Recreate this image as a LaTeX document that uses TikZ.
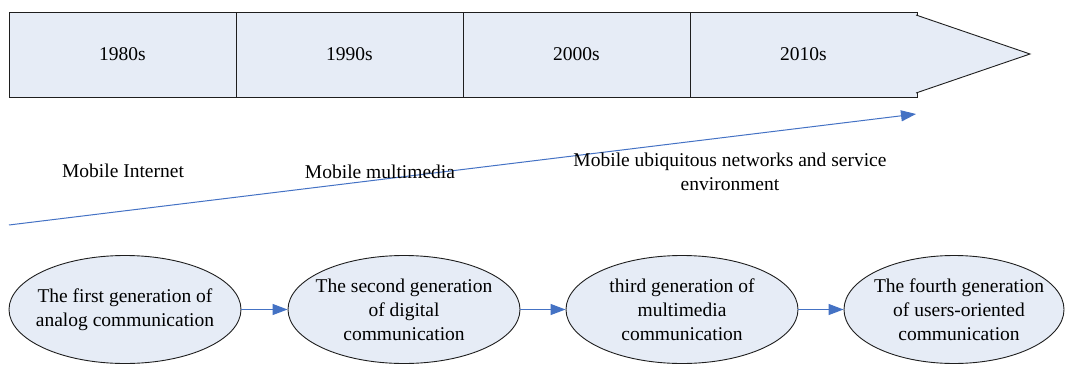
\documentclass[tikz,border=0pt]{standalone}
\usepackage{fontspec}
\setmainfont{Liberation Serif}
\usetikzlibrary{arrows.meta,shapes.geometric}
\definecolor{boxfill}{RGB}{230,236,246}
\definecolor{linkblue}{RGB}{68,114,196}
\definecolor{edge}{RGB}{30,30,30}
\tikzset{
  era/.style={draw=edge, fill=boxfill, line width=0.9pt, minimum width=227pt, minimum height=85pt, inner sep=0pt, font=\fontsize{19.5}{24}\selectfont},
  gen/.style={ellipse, draw=edge, fill=boxfill, line width=0.9pt, minimum width=232pt, minimum height=108pt, inner sep=0pt},
  lbl/.style={align=center, inner sep=0pt, font=\fontsize{19.5}{24}\selectfont},
  link/.style={draw=linkblue, line width=1.2pt, -{Triangle[length=15pt,width=11pt]}}
}
\begin{document}
\begin{tikzpicture}[x=1pt,y=-1pt]
\useasboundingbox (0,0) rectangle (1065,364);
% era bar
\node[era] (e1) at (122.5,54.5) {1980s};
\node[era] (e2) at (349.5,54.5) {1990s};
\node[era] (e3) at (576.5,54.5) {2000s};
\node[era] (e4) at (803.5,54.5) {2010s};
\coordinate (t1) at (916,15);
\coordinate (t2) at (1030,54);
\coordinate (t3) at (916,93);
\draw[draw=edge, fill=boxfill, line width=0.9pt] (t1) -- (t2) -- (t3);
% trend line
\coordinate (l0) at (9,225);
\coordinate (l1) at (916,114);
\draw[link, line width=1pt] (l0) -- (l1);
% labels
\node[lbl] (m1) at (123,171) {Mobile Internet};
\node[lbl] (m2) at (380,172) {Mobile multimedia};
\node[lbl] (m3) at (730,172) {Mobile ubiquitous networks and service\\environment};
% generations
\node[gen, label={[lbl]center:The first generation of\\analog communication}] (g1) at (125,309.5) {};
\node[gen, label={[lbl]center:The second generation\\of digital\\communication}] (g2) at (404,309.5) {};
\node[gen, label={[lbl]center:third generation of\\multimedia\\communication}] (g3) at (682,309.5) {};
\node[gen, minimum width=220pt, label={[lbl, xshift=5pt]center:The fourth generation\\of users-oriented\\communication}] (g4) at (954,309.5) {};
\draw[link] (g1) -- (g2);
\draw[link] (g2) -- (g3);
\draw[link] (g3) -- (g4);
\end{tikzpicture}
\end{document}
